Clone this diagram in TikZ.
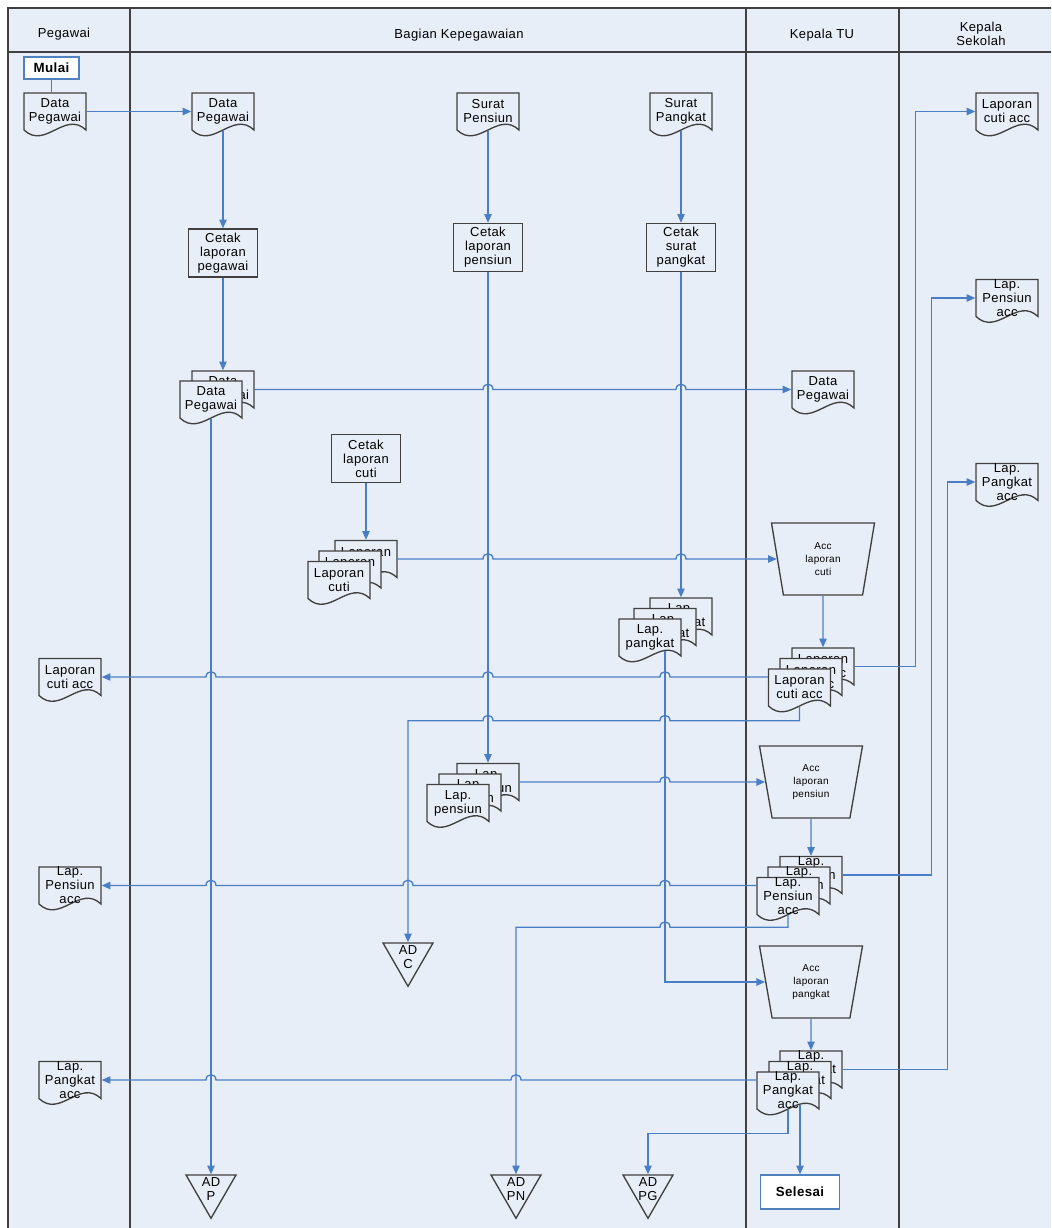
\documentclass[tikz,border=0pt]{standalone}
\usepackage{fontspec}
\setmainfont{Liberation Sans}[LetterSpace=3]
\usetikzlibrary{arrows.meta, calc, shapes.geometric}
\definecolor{cbg}{HTML}{E8EEF8}
\definecolor{cline}{HTML}{404040}
\definecolor{cflow}{HTML}{4A7EC4}
\definecolor{cterm}{HTML}{4F81BD}
\newcommand{\doctext}{\fontsize{9.75}{10.5}\selectfont}
\newcommand{\acctext}{\fontsize{7.5}{10}\selectfont}
\newcommand{\termtext}{\fontsize{10}{12}\selectfont\bfseries}
\tikzset{
  every picture/.style={line width=1pt},
  flow/.style={draw=cflow, line width=1pt, -{Triangle[length=6.5pt, width=5.5pt]}},
  plain/.style={draw=cflow, line width=1pt},
  docshape/.style={draw=cline, fill=cbg, line width=1pt},
  doc/.style={minimum width=46.5pt, minimum height=27.75pt, inner xsep=0pt, inner ysep=-1.5pt, align=center, font=\doctext},
  proc/.style={draw=cline, fill=cbg, line width=1pt, minimum width=52pt, minimum height=36pt, align=center, inner sep=1pt, font=\doctext},
  acc/.style={trapezium, trapezium stretches body, shape border rotate=180, trapezium left angle=70.5, trapezium right angle=70.5,
    minimum width=77.25pt, minimum height=54pt, draw=cline, fill=cbg, line width=1pt, align=center, inner sep=0pt, font=\acctext},
  adtri/.style={regular polygon, regular polygon sides=3, shape border rotate=180, minimum size=43.3pt, inner sep=0pt,
    draw=cline, fill=cbg, line width=1pt},
  adlabel/.style={font=\doctext, align=center, inner sep=0pt},
  term/.style={draw=cterm, fill=white, line width=1pt, font=\termtext},
  lane/.style={font=\doctext, align=center},
  laneline/.style={draw=cline, line width=1.1pt},
}

\begin{document}
\begin{tikzpicture}[x=0.75pt, y=-0.75pt]
  \newcommand{\docnode}[3]{%
    \path[docshape] ($(#2)+(-31,-18.5)$) -- ($(#2)+(31,-18.5)$) -- ($(#2)+(31,18.5)$)
      .. controls ($(#2)+(10,-1.5)$) and ($(#2)+(-10,38.5)$) .. ($(#2)+(-31,18.5)$) -- cycle;
    \node[doc] (#1) at (#2) {#3};
  }
  \newcommand{\hopR}[1]{-- ($(#1)+(-5,0)$) .. controls +(0,-7) and +(0,-7) .. ($(#1)+(5,0)$)}
  \newcommand{\hopL}[1]{-- ($(#1)+(5,0)$) .. controls +(0,-7) and +(0,-7) .. ($(#1)+(-5,0)$)}
  \useasboundingbox (0,0) rectangle (1051,1228);

  % lanes
  \fill[cbg] (8,8) rectangle (1051,1228);
  \draw[laneline] (1051,8) -- (8,8) -- (8,1228);
  \draw[laneline] (8,52) -- (1051,52);
  \draw[laneline] (130,8) -- (130,1228);
  \draw[laneline] (746,8) -- (746,1228);
  \draw[laneline] (899,8) -- (899,1228);
  \node[lane] (hPegawai) at (64,34) {Pegawai};
  \node[lane] (hBagian) at (459,35) {Bagian Kepegawaian};
  \node[lane] (hTU) at (822,35) {Kepala TU};
  \node[lane] (hKS) at (981,34) {Kepala\\Sekolah};

  % pegawai
  \node[term, minimum width=41.25pt, minimum height=16.5pt] (mulai) at (51.5,68) {Mulai};
  \docnode{pgData}{55,111.5}{Data\\Pegawai}
  \docnode{pgCuti}{70,677}{Laporan\\cuti acc}
  \docnode{pgPensiun}{70,885.5}{Lap.\\Pensiun\\acc}
  \docnode{pgPangkat}{70,1080}{Lap.\\Pangkat\\acc}

  % bagian kepegawaian
  \docnode{bgData}{223,111.5}{Data\\Pegawai}
  \docnode{suratPensiun}{488,111.5}{Surat\\Pensiun}
  \docnode{suratPangkat}{681,111.5}{Surat\\Pangkat}
  \node[proc] (cetakPegawai) at (223,253) {Cetak\\laporan\\pegawai};
  \node[proc] (cetakPensiun) at (488,247.5) {Cetak\\laporan\\pensiun};
  \node[proc] (cetakPangkat) at (681,247.5) {Cetak\\surat\\pangkat};
  \node[proc] (cetakCuti) at (366,458.5) {Cetak\\laporan\\cuti};
  \docnode{dataBack}{223,389.5}{Data\\Pegawai}
  \docnode{dataFront}{211,399.5}{Data\\Pegawai}
  \docnode{cutiBack}{366,559}{Laporan\\cuti}
  \docnode{cutiMid}{350,569.5}{Laporan\\cuti}
  \docnode{cutiFront}{339,580}{Laporan\\cuti}
  \docnode{pangkatBack}{681,616.5}{Lap.\\pangkat}
  \docnode{pangkatMid}{665,627}{Lap.\\pangkat}
  \docnode{pangkatFront}{650,637.5}{Lap.\\pangkat}
  \docnode{pensiunBack}{488,782}{Lap.\\pensiun}
  \docnode{pensiunMid}{470,792.5}{Lap.\\pensiun}
  \docnode{pensiunFront}{458,803}{Lap.\\pensiun}
  \node[adtri, label={[adlabel]center:AD\\C}] (adc) at (408,957.4) {};
  \node[adtri, label={[adlabel]center:AD\\P}] (adp) at (211,1189.4) {};
  \node[adtri, label={[adlabel]center:AD\\PN}] (adpn) at (516,1189.4) {};
  \node[adtri, label={[adlabel]center:AD\\PG}] (adpg) at (648,1189.4) {};

  % kepala TU
  \docnode{tuData}{823,389.5}{Data\\Pegawai}
  \node[acc] (accCuti) at (823,559) {Acc\\laporan\\cuti};
  \docnode{cutiAccBack}{823,666.5}{Laporan\\cuti acc}
  \docnode{cutiAccMid}{811,677}{Laporan\\cuti acc}
  \docnode{cutiAccFront}{799.5,687.5}{Laporan\\cuti acc}
  \node[acc] (accPensiun) at (811,782) {Acc\\laporan\\pensiun};
  \docnode{pensiunAccBack}{811,875}{Lap.\\Pensiun\\acc}
  \docnode{pensiunAccMid}{799,885.5}{Lap.\\Pensiun\\acc}
  \docnode{pensiunAccFront}{788,896}{Lap.\\Pensiun\\acc}
  \node[acc] (accPangkat) at (811,982) {Acc\\laporan\\pangkat};
  \docnode{pangkatAccBack}{811,1069.5}{Lap.\\Pangkat\\acc}
  \docnode{pangkatAccMid}{800,1080}{Lap.\\Pangkat\\acc}
  \docnode{pangkatAccFront}{788,1090.5}{Lap.\\Pangkat\\acc}
  \node[term, minimum width=59.25pt, minimum height=25.5pt] (selesai) at (800,1192) {Selesai};

  % kepala sekolah
  \docnode{ksCuti}{1007,111.5}{Laporan\\cuti acc}
  \docnode{ksPensiun}{1007,298}{Lap.\\Pensiun\\acc}
  \docnode{ksPangkat}{1007,482}{Lap.\\Pangkat\\acc}

  % data pegawai
  \draw[plain] (mulai.south) -- (mulai.south |- pgData.north);
  \draw[flow] (pgData.east) -- (bgData.west);
  \draw[flow] (bgData.south) -- (cetakPegawai.north);
  \draw[flow] (cetakPegawai.south) -- (dataBack.north);
  \draw[flow] (dataBack.east) \hopR{cetakPensiun |- dataBack} \hopR{cetakPangkat |- dataBack} -- (tuData.west);
  \draw[flow] (dataFront.south) -- (adp);

  % cuti
  \draw[flow] (cetakCuti.south) -- (cutiBack.north);
  \draw[flow] (cutiBack.east) \hopR{cetakPensiun |- cutiBack} \hopR{cetakPangkat |- cutiBack} -- (accCuti);
  \draw[flow] (accCuti) -- (cutiAccBack.north);
  \draw[flow] (cutiAccFront.west |- cutiAccMid) \hopL{pangkatMid |- cutiAccMid} \hopL{cetakPensiun |- cutiAccMid}
    \hopL{dataFront |- cutiAccMid} -- (pgCuti.east);
  \draw[flow] (cutiAccBack.east) -- ++(61,0) |- (ksCuti);
  \coordinate (cutiBend) at ($(cutiAccFront.south)+(0,14)$);
  \draw[flow] (cutiAccFront.south) -- (cutiBend) \hopL{pangkatMid |- cutiBend} \hopL{cetakPensiun |- cutiBend}
    -- (adc |- cutiBend) -- (adc);

  % pensiun
  \draw[flow] (suratPensiun.south) -- (cetakPensiun.north);
  \draw[flow] (cetakPensiun.south) -- (pensiunBack.north);
  \draw[flow] (pensiunBack.east) \hopR{pangkatMid |- pensiunBack} -- (accPensiun);
  \draw[flow] (accPensiun) -- (pensiunAccBack.north);
  \draw[flow] (pensiunAccFront.west |- pensiunAccMid) \hopL{pangkatMid |- pensiunAccMid} \hopL{adc |- pensiunAccMid}
    \hopL{dataFront |- pensiunAccMid} -- (pgPensiun.east);
  \draw[flow] (pensiunAccBack.east) -- ++(89,0) |- (ksPensiun);
  \coordinate (pensiunBend) at ($(pensiunAccFront.south)+(0,12)$);
  \draw[flow] (pensiunAccFront.south) -- (pensiunBend) \hopL{pangkatMid |- pensiunBend} -- (adpn |- pensiunBend) -- (adpn);

  % pangkat
  \draw[flow] (suratPangkat.south) -- (cetakPangkat.north);
  \draw[flow] (cetakPangkat.south) -- (pangkatBack.north);
  \draw[flow] ($(pangkatMid.center |- pangkatFront.south)+(0,-5.5)$) |- (accPangkat);
  \draw[flow] (accPangkat) -- (pangkatAccBack.north);
  \draw[flow] (pangkatAccFront.west |- pangkatAccMid) \hopL{adpn |- pangkatAccMid} \hopL{dataFront |- pangkatAccMid}
    -- (pgPangkat.east);
  \draw[flow] (pangkatAccBack.east) -- ++(105,0) |- (ksPangkat);
  \draw[flow] (pangkatAccFront.south) -- ++(0,24) -| (adpg);
  \draw[flow] ($(pangkatAccMid.center |- pangkatAccFront.south)+(0,-4.5)$) -- (selesai);
\end{tikzpicture}
\end{document}
